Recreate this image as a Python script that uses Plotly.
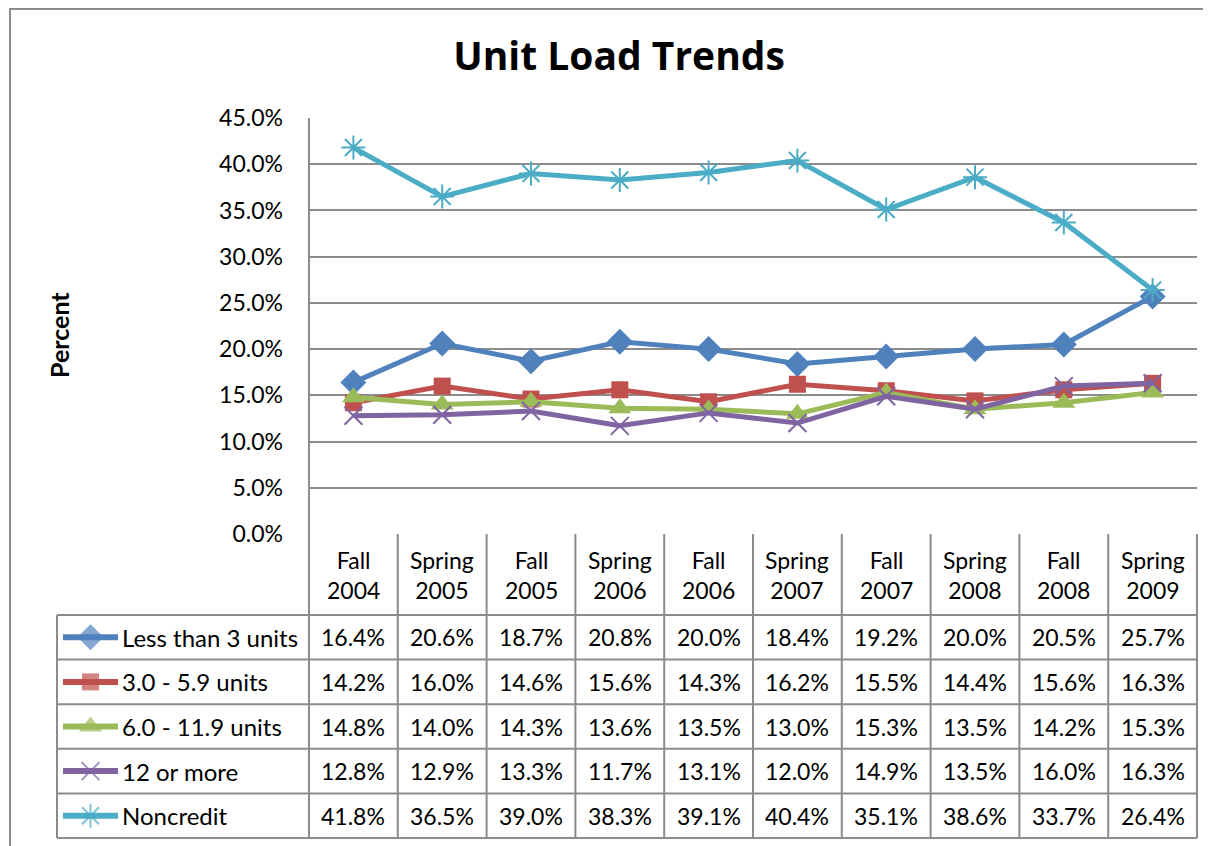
import plotly.graph_objects as go

categories = ["Fall<br>2004", "Spring<br>2005", "Fall<br>2005", "Spring<br>2006", "Fall<br>2006",
              "Spring<br>2007", "Fall<br>2007", "Spring<br>2008", "Fall<br>2008", "Spring<br>2009"]
series_names = ["Less than 3 units", "3.0 - 5.9 units", "6.0 - 11.9 units", "12 or more", "Noncredit"]
less_than_3 = [16.4, 20.6, 18.7, 20.8, 20.0, 18.4, 19.2, 20.0, 20.5, 25.7]
units_3_59 = [14.2, 16.0, 14.6, 15.6, 14.3, 16.2, 15.5, 14.4, 15.6, 16.3]
units_6_119 = [14.8, 14.0, 14.3, 13.6, 13.5, 13.0, 15.3, 13.5, 14.2, 15.3]
twelve_plus = [12.8, 12.9, 13.3, 11.7, 13.1, 12.0, 14.9, 13.5, 16.0, 16.3]
noncredit = [41.8, 36.5, 39.0, 38.3, 39.1, 40.4, 35.1, 38.6, 33.7, 26.4]
y_ticks = [0, 5, 10, 15, 20, 25, 30, 35, 40, 45]
y_tick_labels = [f"{v:.1f}%" for v in y_ticks]

series_values = [less_than_3, units_3_59, units_6_119, twelve_plus, noncredit]
colors = ["#4F81BD", "#C0504D", "#9BBB59", "#8064A2", "#4BACC6"]
symbols = ["diamond", "square", "triangle-up", "x-thin", "asterisk"]
msizes = [20, 17, 20, 18, 20]

W, H = 1211, 846
OFF = 8  # page body margin around the figure
FONT = "Lato"
GRID = "#8C8C8C"

# layout in screen pixels
PL, PR, PT, PB = 309, 1197, 118, 534
TL = 57
ROW_TOP = 615
ROW_H = 44.6
N = len(categories)
COL_W = (PR - PL) / N

def px(x):
    return (x - OFF) / W

def py(y):
    return 1 - (y - OFF) / H

fig = go.Figure()

x_idx = list(range(N))
for name, vals, c, s, ms in zip(series_names, series_values, colors, symbols, msizes):
    open_sym = s in ("x-thin", "asterisk")
    fig.add_trace(go.Scatter(
        x=x_idx, y=vals, name=name, mode="lines+markers",
        line=dict(color=c, width=5),
        marker=dict(symbol=s, size=ms, color=c,
                    line=dict(color=c, width=2 if open_sym else 0)),
        xaxis="x", yaxis="y", showlegend=False, hoverinfo="skip"))

# legend keys drawn in table rows (pixel-space axes over the whole paper)
for i, (name, c, s, ms) in enumerate(zip(series_names, colors, symbols, msizes)):
    yc = ROW_TOP + ROW_H * (i + 0.5)
    open_sym = s in ("x-thin", "asterisk")
    fig.add_trace(go.Scatter(
        x=[63, 90.5, 118], y=[yc, yc, yc], mode="lines+markers",
        line=dict(color=c, width=6),
        marker=dict(symbol=s, size=[0, ms, 0], color=c,
                    line=dict(color=c, width=2 if open_sym else 0)),
        xaxis="x2", yaxis="y2", showlegend=False, hoverinfo="skip"))

shapes = []
def hline(y, x0, x1, w=2):
    shapes.append(dict(type="line", xref="paper", yref="paper", x0=px(x0), x1=px(x1),
                       y0=py(y), y1=py(y), line=dict(color=GRID, width=w), layer="below"))
def vline(x, y0, y1, w=2):
    shapes.append(dict(type="line", xref="paper", yref="paper", x0=px(x), x1=px(x),
                       y0=py(y0), y1=py(y1), line=dict(color=GRID, width=w), layer="below"))

# outer chart border
hline(OFF + 1, 10, W + OFF)
vline(10, OFF, H + OFF)

# table grid
table_bottom = ROW_TOP + ROW_H * len(series_names)
vline(PL, PT, table_bottom)
for k in range(1, N + 1):
    vline(PL + COL_W * k, PB, table_bottom)
vline(TL, ROW_TOP, table_bottom)
for r in range(len(series_names) + 1):
    hline(ROW_TOP + ROW_H * r, TL, PR)

annotations = []
# header category labels
for k, cat in enumerate(categories):
    annotations.append(dict(xref="paper", yref="paper", x=px(PL + COL_W * (k + 0.5)),
                            y=py((PB + ROW_TOP) / 2), text=cat, showarrow=False,
                            font=dict(family=FONT, size=23, color="black"),
                            xanchor="center", yanchor="middle", align="center"))
# values and series labels
for i, (name, vals) in enumerate(zip(series_names, series_values)):
    yc = ROW_TOP + ROW_H * (i + 0.5)
    annotations.append(dict(xref="paper", yref="paper", x=px(120), y=py(yc), text=name,
                            showarrow=False, font=dict(family=FONT, size=24, color="black"),
                            xanchor="left", yanchor="middle"))
    for k, v in enumerate(vals):
        annotations.append(dict(xref="paper", yref="paper", x=px(PL + COL_W * (k + 0.5)),
                                y=py(yc), text=f"{v:.1f}%", showarrow=False,
                                font=dict(family=FONT, size=23, color="black"),
                                xanchor="center", yanchor="middle"))
# y axis title
annotations.append(dict(xref="paper", yref="paper", x=px(59), y=py(335), text="<b>Percent</b>",
                        showarrow=False, textangle=-90,
                        font=dict(family=FONT, size=25, color="black"),
                        xanchor="center", yanchor="middle"))

fig.update_layout(
    width=W, height=H, autosize=False,
    margin=dict(l=0, r=0, t=0, b=0, pad=0),
    paper_bgcolor="white", plot_bgcolor="rgba(0,0,0,0)",
    title=dict(text="<b>Unit Load Trends</b>", x=px(619), y=py(56), xanchor="center",
               yanchor="middle", font=dict(family="Open Sans", size=39, color="black")),
    xaxis=dict(domain=[px(PL), px(PR)], range=[-0.5, N - 0.5], showticklabels=False,
               showgrid=False, zeroline=False, showline=False, fixedrange=True,
               automargin=False),
    yaxis=dict(domain=[py(PB), py(PT)], range=[0, 45], tickvals=y_ticks, ticktext=y_tick_labels,
               tickmode="array", showgrid=True, gridcolor=GRID, gridwidth=2,
               zeroline=False, showline=False, ticks="", ticklabelstandoff=25,
               tickfont=dict(family=FONT, size=23, color="black"), fixedrange=True,
               automargin=False),
    xaxis2=dict(domain=[0, 1], range=[OFF, W + OFF], visible=False, anchor="y2",
                automargin=False, fixedrange=True),
    yaxis2=dict(domain=[0, 1], range=[H + OFF, OFF], visible=False, anchor="x2",
                automargin=False, fixedrange=True),
    shapes=shapes, annotations=annotations, showlegend=False,
)

fig.write_html("out.html")
